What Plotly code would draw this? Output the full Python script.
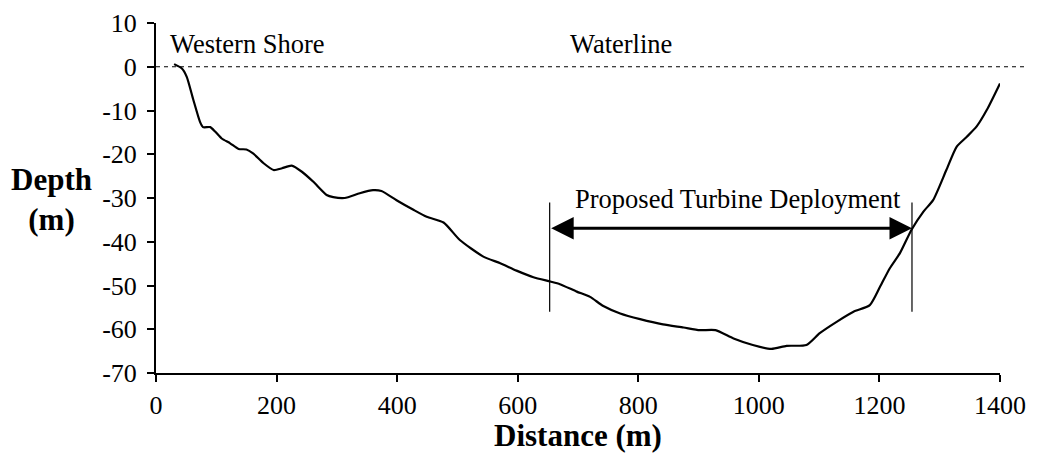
import plotly.graph_objects as go

# ---- data ----
distance = [30, 43, 51, 62, 73, 78, 90, 98, 109, 123,
            137, 150, 161, 178, 195, 209, 225, 242, 261, 283,
            294, 313, 338, 360, 374, 399, 427, 449, 477, 504,
            543, 571, 598, 626, 654, 670, 698, 720, 742, 770,
            803, 841, 875, 902, 928, 958, 990, 1021, 1046, 1079,
            1101, 1129, 1157, 1184, 1201, 1217, 1234, 1253, 1273, 1289,
            1311, 1328, 1345, 1361, 1378, 1400]
depth = [0.6, -0.4, -2.3, -7.6, -12.6, -13.8, -13.8, -14.8, -16.4, -17.5,
         -18.8, -18.9, -19.8, -22.0, -23.6, -23.2, -22.6, -24.0, -26.3, -29.3,
         -29.8, -30.0, -28.9, -28.2, -28.4, -30.5, -32.7, -34.3, -35.6, -39.6,
         -43.4, -44.9, -46.6, -48.1, -49.1, -49.7, -51.4, -52.6, -54.7, -56.4,
         -57.7, -58.9, -59.6, -60.2, -60.2, -62.1, -63.6, -64.5, -63.8, -63.6,
         -60.9, -58.3, -56.0, -54.5, -50.3, -46.1, -42.6, -37.3, -33.1, -30.5,
         -23.6, -18.3, -16.0, -13.7, -9.9, -3.8]

x_ticks = [0, 200, 400, 600, 800, 1000, 1200, 1400]
y_ticks = [10, 0, -10, -20, -30, -40, -50, -60, -70]

deploy_start = 653
deploy_end = 1254
deploy_marker_top = -31
deploy_marker_bottom = -56
arrow_level = -36.9
waterline_level = 0

FONT = "Liberation Serif"

fig = go.Figure()
fig.add_trace(go.Scatter(
    x=distance, y=depth, mode="lines",
    line=dict(color="black", width=2.2, shape="spline", smoothing=0.6),
    showlegend=False, hoverinfo="skip",
))

# waterline (dashed)
fig.add_shape(type="line", xref="paper", yref="y",
              x0=0, x1=1.03, y0=waterline_level, y1=waterline_level,
              line=dict(color="black", width=1, dash="4px,4px"))

# deployment markers
for xv in (deploy_start, deploy_end):
    fig.add_shape(type="line", xref="x", yref="y",
                  x0=xv, x1=xv, y0=deploy_marker_top, y1=deploy_marker_bottom,
                  line=dict(color="black", width=1.2))

# double-headed arrow
fig.add_annotation(x=deploy_end, y=arrow_level, ax=deploy_start, ay=arrow_level,
                   xref="x", yref="y", axref="x", ayref="y",
                   text="", showarrow=True, arrowhead=2, arrowside="end+start",
                   arrowsize=1.5, arrowwidth=3, arrowcolor="black",
                   standoff=0, startstandoff=0)

txt_font = dict(family=FONT, size=26.5, color="black")
fig.add_annotation(x=965, y=-30.3, xref="x", yref="y", text="Proposed Turbine Deployment",
                   showarrow=False, font=txt_font, xanchor="center", yanchor="middle")
fig.add_annotation(x=20, y=5.2, xref="x", yref="y", text="Western Shore",
                   showarrow=False, font=txt_font, xanchor="left", yanchor="middle")
fig.add_annotation(x=771, y=5.2, xref="x", yref="y", text="Waterline",
                   showarrow=False, font=txt_font, xanchor="center", yanchor="middle")
fig.add_annotation(x=1455, y=5.2, xref="x", yref="y", text="Eastern Shore",
                   showarrow=False, font=txt_font, xanchor="right", yanchor="middle")

# axis titles
title_font = dict(family=FONT, size=31, color="black")
fig.add_annotation(x=-0.124, y=0.497, xref="paper", yref="paper",
                   text="<b>Depth</b><br><b>(m)</b>", showarrow=False,
                   font=title_font, xanchor="center", yanchor="middle")
fig.add_annotation(x=0.5, y=-0.178, xref="paper", yref="paper",
                   text="<b>Distance (m)</b>", showarrow=False,
                   font=title_font, xanchor="center", yanchor="middle")

axis_common = dict(showline=True, linecolor="black", linewidth=2,
                   ticks="outside", ticklen=7, tickwidth=2, tickcolor="black",
                   showgrid=False, zeroline=False, automargin=False,
                   tickfont=dict(family=FONT, size=26, color="black"))

fig.update_xaxes(range=[0, 1400], tickvals=x_ticks, ticklabelstandoff=1,
                 ticktext=[str(v) for v in x_ticks], **axis_common)
fig.update_yaxes(range=[-70, 10], tickvals=y_ticks, ticklabelstandoff=5,
                 ticktext=[str(v) for v in y_ticks], **axis_common)

# page body adds an 8px offset; compensate so the plot area lands where the reference has it
fig.update_layout(width=1029, height=447,
                  margin=dict(l=148, r=37, t=15, b=82),
                  plot_bgcolor="white", paper_bgcolor="white",
                  font=dict(family=FONT, color="black"))

fig.write_html("out.html")
